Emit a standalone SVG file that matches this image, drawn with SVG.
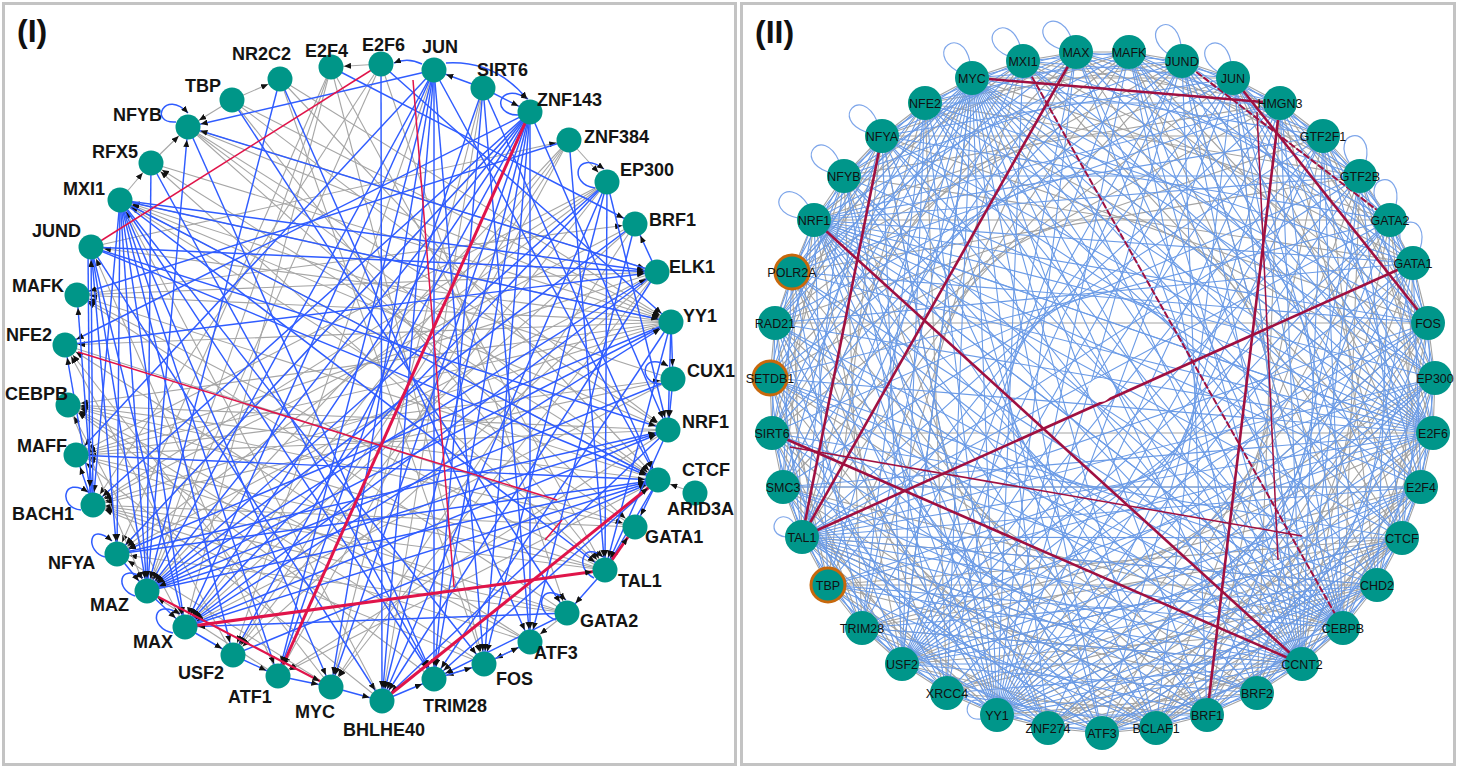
<svg xmlns="http://www.w3.org/2000/svg" width="1459" height="768" viewBox="0 0 1459 768">
<style>
.frame{fill:#fff;stroke:#c3c3c3;stroke-width:3}
.ttl{font-family:"Liberation Sans",Arial,sans-serif;font-weight:bold;font-size:32px;fill:#111}
.t1{font-family:"Liberation Sans",Arial,sans-serif;font-weight:bold;font-size:18px;fill:#141414}
.t2{font-family:"Liberation Sans",Arial,sans-serif;font-size:12.5px;fill:#111;text-anchor:middle}
.n1{fill:#009688}
.n2{fill:#00968a}
.n2o{fill:#00968a;stroke:#c8680c;stroke-width:3}
.b path{stroke:#2f5cff;stroke-width:1.45;fill:none;marker-end:url(#ar)}
.g path{stroke:#a6a6a6;stroke-width:1.1;fill:none;marker-end:url(#ar)}
.lp{stroke:#2f5cff;stroke-width:1.5;fill:none;marker-end:url(#al)}
.r{stroke:#e0144a;stroke-width:1.5;fill:none}
.R{stroke:#e0144a;stroke-width:3;fill:none;marker-end:url(#ar)}
.B2{stroke:#6b9be6;stroke-width:1.1;fill:none;stroke-linejoin:round}
.G2{stroke:#a3a3a3;stroke-width:1.1;fill:none;stroke-linejoin:round}
.R2{stroke:#a01040;stroke-width:2.6;fill:none}
.r2{stroke:#a01040;stroke-width:1.5;fill:none}
.L2{stroke:#7ea6ea;stroke-width:1.2;fill:none}
</style>
<defs>
<marker id="ar" markerUnits="userSpaceOnUse" markerWidth="7" markerHeight="6" refX="20" refY="3" orient="auto"><path d="M0,0L7,3L0,6z" fill="#111"/></marker>
<marker id="al" markerUnits="userSpaceOnUse" markerWidth="7" markerHeight="6" refX="7" refY="3" orient="auto"><path d="M0,0L7,3L0,6z" fill="#111"/></marker>
</defs>
<rect width="1459" height="768" fill="#fff"/>
<rect class="frame" x="3.5" y="3.5" width="732" height="761"/>
<rect class="frame" x="741.5" y="3.5" width="713" height="761"/>
<text class="ttl" x="17" y="42">(I)</text>
<text class="ttl" x="755" y="43">(II)</text>

<g id="connectors">
<g id="p1-grey" class="g">
<path d="M188 127L657 272"/><path d="M188 127L671 322"/><path d="M188 127L668 430"/><path d="M188 127L658 480"/><path d="M188 127L635 527"/>
<path d="M232 100L280 79"/><path d="M232 100L671 322"/><path d="M232 100L668 430"/><path d="M232 100L188 127"/><path d="M151 163L188 127"/>
<path d="M120 200L151 163"/><path d="M151 163L671 322"/><path d="M280 79L484 664"/><path d="M280 79L658 480"/><path d="M331 67L147 591"/>
<path d="M331 67L185 627"/><path d="M331 67L117 554"/><path d="M381 64L331 67"/><path d="M381 64L147 591"/><path d="M381 64L93 505"/>
<path d="M483 88L382 701"/><path d="M483 88L331 687"/><path d="M569 140L607 182"/><path d="M569 140L147 591"/><path d="M569 140L278 676"/>
<path d="M569 140L233 655"/><path d="M607 182L117 554"/><path d="M607 182L93 505"/><path d="M607 182L76 455"/><path d="M607 182L233 655"/>
<path d="M635 224L185 627"/><path d="M635 224L331 687"/><path d="M657 272L76 455"/><path d="M657 272L117 554"/><path d="M657 272L233 655"/>
<path d="M657 272L331 687"/><path d="M671 322L68 405"/><path d="M671 322L76 455"/><path d="M671 322L77 295"/><path d="M671 322L65 345"/>
<path d="M671 322L120 200"/><path d="M671 322L91 247"/><path d="M671 322L93 505"/><path d="M673 379L185 627"/><path d="M673 379L120 200"/>
<path d="M668 430L68 405"/><path d="M668 430L76 455"/><path d="M668 430L120 200"/><path d="M668 430L278 676"/><path d="M658 480L68 405"/>
<path d="M658 480L77 295"/><path d="M658 480L120 200"/><path d="M658 480L151 163"/><path d="M658 480L278 676"/><path d="M695 493L658 480"/>
<path d="M635 527L93 505"/><path d="M635 527L68 405"/><path d="M605 570L93 505"/><path d="M605 570L76 455"/><path d="M605 570L68 405"/>
<path d="M605 570L77 295"/><path d="M567 613L76 455"/><path d="M567 613L117 554"/><path d="M567 613L93 505"/><path d="M530 642L93 505"/>
<path d="M530 642L68 405"/><path d="M530 642L65 345"/><path d="M484 664L93 505"/><path d="M484 664L68 405"/><path d="M530 642L484 664"/>
<path d="M434 679L68 405"/><path d="M484 664L434 679"/><path d="M382 701L76 455"/><path d="M331 687L117 554"/><path d="M331 687L65 345"/>
<path d="M278 676L147 591"/><path d="M68 405L147 591"/><path d="M65 345L635 527"/><path d="M77 295L657 272"/><path d="M77 295L635 224"/>
<path d="M91 247L569 140"/><path d="M76 455L673 379"/><path d="M567 613L530 642"/><path d="M381 64L567 613"/><path d="M331 67L605 570"/>
<path d="M280 79L671 322"/><path d="M232 100L605 570"/><path d="M331 67L484 664"/><path d="M434 70L233 655"/><path d="M530 112L117 554"/>
<path d="M569 140L185 627"/><path d="M635 224L93 505"/><path d="M673 379L93 505"/><path d="M605 570L151 163"/><path d="M567 613L77 295"/>
<path d="M382 701L120 200"/><path d="M278 676L91 247"/><path d="M233 655L65 345"/><path d="M185 627L68 405"/><path d="M635 527L120 200"/>
</g>
<g id="p1-blue" class="b">
<path d="M530 112L147 591"/><path d="M530 112L117 554"/><path d="M530 112L93 505"/><path d="M530 112L185 627"/><path d="M530 112L382 701"/>
<path d="M530 112L434 679"/><path d="M530 112L484 664"/><path d="M530 112L530 642"/><path d="M530 112L65 345"/><path d="M530 112L668 430"/>
<path d="M530 112L233 655"/><path d="M530 112L331 687"/><path d="M434 70L188 127"/><path d="M434 70L147 591"/><path d="M434 70L185 627"/>
<path d="M434 70L278 676"/><path d="M434 70L331 687"/><path d="M434 70L382 701"/><path d="M434 70L434 679"/><path d="M434 70L484 664"/>
<path d="M434 70L76 455"/><path d="M434 70L658 480"/><path d="M483 88L434 70"/><path d="M483 88L530 112"/><path d="M483 88L434 679"/>
<path d="M483 88L658 480"/><path d="M483 88L530 642"/><path d="M483 88L278 676"/><path d="M381 64L671 322"/><path d="M381 64L382 701"/>
<path d="M331 67L635 224"/><path d="M280 79L147 591"/><path d="M280 79L530 642"/><path d="M232 100L567 613"/><path d="M188 127L434 679"/>
<path d="M657 272L188 127"/><path d="M147 591L188 127"/><path d="M120 200L147 591"/><path d="M120 200L117 554"/><path d="M120 200L93 505"/>
<path d="M120 200L185 627"/><path d="M120 200L233 655"/><path d="M120 200L278 676"/><path d="M120 200L331 687"/><path d="M120 200L434 679"/>
<path d="M120 200L484 664"/><path d="M120 200L605 570"/><path d="M120 200L657 272"/><path d="M120 200L671 322"/><path d="M120 200L658 480"/>
<path d="M91 247L147 591"/><path d="M91 247L117 554"/><path d="M91 247L185 627"/><path d="M91 247L668 430"/><path d="M91 247L658 480"/>
<path d="M91 247L382 701"/><path d="M91 247L657 272"/><path d="M151 163L147 591"/><path d="M151 163L434 679"/><path d="M569 140L77 295"/>
<path d="M93 505L77 295"/><path d="M93 505L91 247"/><path d="M93 505L65 345"/><path d="M93 505L76 455"/><path d="M88 250L90 500"/>
<path d="M147 591L658 480"/><path d="M185 627L658 480"/><path d="M117 554L658 480"/><path d="M233 655L658 480"/><path d="M76 455L658 480"/>
<path d="M185 627L668 430"/><path d="M147 591L668 430"/><path d="M117 554L668 430"/><path d="M147 591L657 272"/><path d="M65 345L657 272"/>
<path d="M185 627L671 322"/><path d="M147 591L671 322"/><path d="M657 272L382 701"/><path d="M668 430L382 701"/><path d="M607 182L382 701"/>
<path d="M658 480L434 679"/><path d="M671 322L434 679"/><path d="M635 224L530 642"/><path d="M607 182L484 664"/><path d="M671 322L605 570"/>
<path d="M668 430L605 570"/><path d="M569 140L605 570"/><path d="M607 182L605 570"/><path d="M605 570L567 613"/><path d="M567 613L185 627"/>
<path d="M185 627L233 655"/><path d="M233 655L278 676"/><path d="M278 676L331 687"/><path d="M331 687L382 701"/><path d="M382 701L434 679"/>
<path d="M434 679L484 664"/><path d="M484 664L530 642"/><path d="M147 591L185 627"/><path d="M117 554L147 591"/><path d="M607 182L147 591"/>
<path d="M607 182L185 627"/><path d="M607 182L668 430"/><path d="M657 272L635 224"/><path d="M671 322L673 379"/><path d="M671 322L668 430"/>
<path d="M673 379L668 430"/><path d="M658 480L635 527"/><path d="M658 480L605 570"/><path d="M635 224L147 591"/><path d="M657 272L185 627"/>
<path d="M671 322L117 554"/><path d="M567 613L434 679"/><path d="M673 379L147 591"/>
</g>
<g id="p1-loops">
<path class="lp" d="M176 122C148 124 165 88 188 113"/>
<path class="lp" d="M518 115C490 115 498 80 528 99"/>
<path class="lp" d="M595 188C568 185 575 148 604 169"/>
<path class="lp" d="M661 384C638 384 640 350 668 366"/>
<path class="lp" d="M81 510C58 508 62 475 88 492"/>
<path class="lp" d="M105 557C85 552 88 520 112 541"/>
<path class="lp" d="M135 596C115 590 118 562 143 578"/>
<path class="lp" d="M173 633C148 628 152 597 180 614"/>
<path class="lp" d="M556 620C532 612 540 578 566 600"/>
<path class="lp" d="M594 578C574 568 583 540 603 557"/>
<path class="lp" d="M446 63Q495 60 527 99"/>
<path class="lp" d="M422 64Q408 57 394 63"/>
</g>
<g id="p1-red">
<path class="r" d="M91 247L381 64"/>
<path class="r" d="M78 352L557 500"/>
<path class="r" d="M545 540L562 520"/>
<path class="r" d="M413 80L454 587"/>
<path class="R" d="M530 112L278 676"/>
<path class="R" d="M185 627L605 570"/>
<path class="R" d="M382 701L658 480"/>
<path class="R" style="stroke-width:2.2" d="M147 591L331 687"/>
<path class="R" d="M605 570L635 527"/>
</g>

<g id="p2-ring">
<path class="G2" d="M1076 52L1129 52L1182 61L1233 78L1280 103L1323 136L1360 176L1390 220L1413 263L1428 323L1435 378L1433 433L1421 487L1402 538L1377 585L1343 628L1302 664L1257 693L1207 715L1156 728L1102 733L1048 728L997 715L947 693L902 664L862 628L828 585L802 537L783 487L772 433L770 378L775 323L792 272L814 220L844 176L882 136L925 103L972 78L1023 61Z"/>
</g>
<g id="p2-grey" class="G2">
<path d="M1323 136L1076 52L1428 323M1402 538L1076 52"/>
<path d="M1360 176L1129 52L1435 378M1377 585L1129 52"/>
<path d="M1390 220L1182 61L1433 433M1343 628L1182 61"/>
<path d="M1413 263L1233 78L1421 487M1302 664L1233 78"/>
<path d="M1428 323L1280 103L1402 538M1257 693L1280 103"/>
<path d="M1435 378L1323 136L1377 585M1207 715L1323 136"/>
<path d="M1433 433L1360 176L1343 628M1156 728L1360 176"/>
<path d="M1421 487L1390 220L1302 664M1102 733L1390 220"/>
<path d="M1402 538L1413 263L1257 693M1048 728L1413 263"/>
<path d="M1377 585L1428 323L1207 715M997 715L1428 323"/>
<path d="M1343 628L1435 378L1156 728M947 693L1435 378"/>
<path d="M1302 664L1433 433L1102 733M902 664L1433 433"/>
<path d="M1257 693L1421 487L1048 728M862 628L1421 487"/>
<path d="M1207 715L1402 538L997 715M828 585L1402 538"/>
<path d="M1156 728L1377 585L947 693M802 537L1377 585"/>
<path d="M1102 733L1343 628L902 664M783 487L1343 628"/>
<path d="M1048 728L1302 664L862 628M772 433L1302 664"/>
<path d="M997 715L1257 693L828 585M770 378L1257 693"/>
<path d="M947 693L1207 715L802 537M775 323L1207 715"/>
<path d="M902 664L1156 728L783 487M792 272L1156 728"/>
<path d="M862 628L1102 733L772 433M814 220L1102 733"/>
<path d="M828 585L1048 728L770 378M844 176L1048 728"/>
<path d="M802 537L997 715L775 323M882 136L997 715"/>
<path d="M783 487L947 693L792 272M925 103L947 693"/>
<path d="M772 433L902 664L814 220M972 78L902 664"/>
<path d="M770 378L862 628L844 176M1023 61L862 628"/>
<path d="M775 323L828 585L882 136M1076 52L828 585"/>
<path d="M792 272L802 537L925 103M1129 52L802 537"/>
<path d="M814 220L783 487L972 78M1182 61L783 487"/>
<path d="M844 176L772 433L1023 61M1233 78L772 433"/>
<path d="M882 136L770 378L1076 52M1280 103L770 378"/>
<path d="M925 103L775 323L1129 52M1323 136L775 323"/>
<path d="M972 78L792 272L1182 61M1360 176L792 272"/>
<path d="M1023 61L814 220L1233 78M1390 220L814 220"/>
<path d="M1076 52L844 176L1280 103M1413 263L844 176"/>
<path d="M1129 52L882 136L1323 136M1428 323L882 136"/>
<path d="M1182 61L925 103L1360 176M1435 378L925 103"/>
<path d="M1233 78L972 78L1390 220M1433 433L972 78"/>
<path d="M1280 103L1023 61L1413 263M1421 487L1023 61"/>
<path d="M775 323L1428 323M772 433L1433 433M783 487L1421 487M828 585L1377 585"/>
<path d="M1302 664L1102 733L1377 585M1402 538L1102 733L1421 487"/>
<path d="M1343 628L1156 728L1402 538M1421 487L1156 728L1428 323"/>
<path d="M1377 585L1048 728L1402 538M1433 433L1048 728L1435 378"/>
<path d="M947 693L1402 538L902 664M862 628L1402 538"/>
<path d="M1257 693L802 537L1207 715"/>
</g>
<g id="p2-blue" class="B2">
<path d="M1182 61L1076 52L1280 103M1390 220L1076 52L1433 433M1302 664L1076 52"/>
<path d="M1233 78L1129 52L1323 136M1413 263L1129 52L1421 487M1257 693L1129 52"/>
<path d="M1280 103L1182 61L1360 176M1428 323L1182 61L1402 538M1207 715L1182 61"/>
<path d="M1323 136L1233 78L1390 220M1435 378L1233 78L1377 585M1156 728L1233 78"/>
<path d="M1360 176L1280 103L1413 263M1433 433L1280 103L1343 628M1102 733L1280 103"/>
<path d="M1390 220L1323 136L1428 323M1421 487L1323 136L1302 664M1048 728L1323 136"/>
<path d="M1413 263L1360 176L1435 378M1402 538L1360 176L1257 693M997 715L1360 176"/>
<path d="M1428 323L1390 220L1433 433M1377 585L1390 220L1207 715M947 693L1390 220"/>
<path d="M1435 378L1413 263L1421 487M1343 628L1413 263L1156 728M902 664L1413 263"/>
<path d="M1433 433L1428 323L1402 538M1302 664L1428 323L1102 733M862 628L1428 323"/>
<path d="M1421 487L1435 378L1377 585M1257 693L1435 378L1048 728M828 585L1435 378"/>
<path d="M1402 538L1433 433L1343 628M1207 715L1433 433L997 715M802 537L1433 433"/>
<path d="M1377 585L1421 487L1302 664M1156 728L1421 487L947 693M783 487L1421 487"/>
<path d="M1343 628L1402 538L1257 693M1102 733L1402 538L902 664M772 433L1402 538"/>
<path d="M1302 664L1377 585L1207 715M1048 728L1377 585L862 628M770 378L1377 585"/>
<path d="M1257 693L1343 628L1156 728M997 715L1343 628L828 585M775 323L1343 628"/>
<path d="M1207 715L1302 664L1102 733M947 693L1302 664L802 537M792 272L1302 664"/>
<path d="M1156 728L1257 693L1048 728M902 664L1257 693L783 487M814 220L1257 693"/>
<path d="M1102 733L1207 715L997 715M862 628L1207 715L772 433M844 176L1207 715"/>
<path d="M1048 728L1156 728L947 693M828 585L1156 728L770 378M882 136L1156 728"/>
<path d="M997 715L1102 733L902 664M802 537L1102 733L775 323M925 103L1102 733"/>
<path d="M947 693L1048 728L862 628M783 487L1048 728L792 272M972 78L1048 728"/>
<path d="M902 664L997 715L828 585M772 433L997 715L814 220M1023 61L997 715"/>
<path d="M862 628L947 693L802 537M770 378L947 693L844 176M1076 52L947 693"/>
<path d="M828 585L902 664L783 487M775 323L902 664L882 136M1129 52L902 664"/>
<path d="M802 537L862 628L772 433M792 272L862 628L925 103M1182 61L862 628"/>
<path d="M783 487L828 585L770 378M814 220L828 585L972 78M1233 78L828 585"/>
<path d="M772 433L802 537L775 323M844 176L802 537L1023 61M1280 103L802 537"/>
<path d="M770 378L783 487L792 272M882 136L783 487L1076 52M1323 136L783 487"/>
<path d="M775 323L772 433L814 220M925 103L772 433L1129 52M1360 176L772 433"/>
<path d="M792 272L770 378L844 176M972 78L770 378L1182 61M1390 220L770 378"/>
<path d="M814 220L775 323L882 136M1023 61L775 323L1233 78M1413 263L775 323"/>
<path d="M844 176L792 272L925 103M1076 52L792 272L1280 103M1428 323L792 272"/>
<path d="M882 136L814 220L972 78M1129 52L814 220L1323 136M1435 378L814 220"/>
<path d="M925 103L844 176L1023 61M1182 61L844 176L1360 176M1433 433L844 176"/>
<path d="M972 78L882 136L1076 52M1233 78L882 136L1390 220M1421 487L882 136"/>
<path d="M1023 61L925 103L1129 52M1280 103L925 103L1413 263M1402 538L925 103"/>
<path d="M1076 52L972 78L1182 61M1323 136L972 78L1428 323M1377 585L972 78"/>
<path d="M1129 52L1023 61L1233 78M1360 176L1023 61L1435 378M1343 628L1023 61"/>
<path d="M1076 52L997 715L1129 52M1182 61L997 715L1233 78M1280 103L997 715L1323 136M1390 220L997 715L1413 263M1428 323L997 715L1435 378M1421 487L997 715L1402 538M1377 585L997 715L1302 664M775 323L997 715L792 272M844 176L997 715L882 136M925 103L997 715L972 78"/>
<path d="M862 628L1433 433L828 585M783 487L1433 433L770 378M775 323L1433 433L792 272M814 220L1433 433L882 136M925 103L1433 433L972 78M1023 61L1433 433L1129 52M1182 61L1433 433L1233 78"/>
<path d="M902 664L1302 664L862 628M828 585L1302 664L783 487M770 378L1302 664L775 323M814 220L1302 664L844 176M882 136L1302 664L925 103M972 78L1302 664L1023 61M1129 52L1302 664L1182 61M1233 78L1302 664L1280 103M1360 176L1302 664"/>
<path d="M1360 176L802 537L1390 220M1413 263L802 537L1428 323M1435 378L802 537L1421 487M1402 538L802 537L1377 585M1343 628L802 537L1257 693M1207 715L802 537L1156 728M1102 733L802 537"/>
<path d="M772 433L1343 628L770 378M792 272L1343 628L814 220M844 176L1343 628L882 136M925 103L1343 628L972 78M1076 52L1343 628L1129 52M1182 61L1343 628L1233 78M1323 136L1343 628"/>
<path d="M1435 378L972 78L1421 487M1402 538L972 78L1257 693M1207 715L972 78L1156 728M1102 733L972 78L947 693M902 664L972 78L862 628M802 537L972 78L783 487M772 433L972 78L775 323M792 272L972 78"/>
<path d="M1280 103L814 220L1360 176M1413 263L814 220L1428 323M1433 433L814 220L1421 487M1402 538L814 220L1377 585M1343 628L814 220L1207 715M1156 728L814 220L1102 733M1048 728L814 220"/>
<path d="M1182 61L902 664L1233 78M1280 103L902 664L1323 136M1360 176L902 664L1390 220M1428 323L902 664L1435 378M1421 487L902 664L1402 538M1377 585L902 664L925 103M972 78L902 664"/>
</g>
<g id="p2-loops" class="L2">
<path d="M957 71C924 51 962 24 970 62"/>
<path d="M1008 56C972 40 1007 8 1020 45"/>
<path d="M1060 49C1023 36 1055 1 1071 37"/>
<path d="M1168 54C1136 31 1175 6 1181 45"/>
<path d="M1218 72C1185 51 1223 24 1231 62"/>
<path d="M1350 164C1328 131 1374 123 1366 161"/>
<path d="M1380 208C1358 175 1404 167 1396 205"/>
<path d="M1404 250C1386 215 1432 211 1420 249"/>
<path d="M866 132C830 119 861 85 877 121"/>
<path d="M828 172C792 159 823 125 839 161"/>
<path d="M798 218C760 210 787 172 808 205"/>
<path d="M786 537C762 534 779 504 794 523"/>
<path d="M982 719C958 722 966 689 986 704"/>
</g>
<g id="p2-red">
<path class="R2" d="M989 79L1263 102"/>
<path class="R2" d="M1233 78L1428 323"/>
<path class="R2" d="M1278 120L1207 715"/>
<path class="R2" d="M1076 52L802 537"/>
<path class="R2" d="M882 136L802 537"/>
<path class="R2" d="M814 220L1302 664"/>
<path class="R2" d="M772 433L1302 664"/>
<path class="R2" d="M1413 263L802 537"/>
<path class="R2" style="stroke-width:2;stroke-dasharray:7 2" d="M1023 61L1343 628"/>
<path class="R2" style="stroke-width:2;stroke-dasharray:7 2" d="M1182 61L1390 220"/>
<path class="r2" d="M1257 112L1278 560"/>
<path class="r2" d="M790 447L1302 536"/>
</g>
<circle cx="1100" cy="390" r="12" fill="#fff"/>
</g>

<g id="nodes-I">
<g id="n1-TBP"><circle class="n1" cx="232" cy="100" r="12.5"/><text class="t1" x="185" y="92">TBP</text></g>
<g id="n1-NR2C2"><circle class="n1" cx="280" cy="79" r="12.5"/><text class="t1" x="232" y="60">NR2C2</text></g>
<g id="n1-E2F4"><circle class="n1" cx="331" cy="67" r="12.5"/><text class="t1" x="305" y="57">E2F4</text></g>
<g id="n1-E2F6"><circle class="n1" cx="381" cy="64" r="12.5"/><text class="t1" x="362" y="51">E2F6</text></g>
<g id="n1-JUN"><circle class="n1" cx="434" cy="70" r="12.5"/><text class="t1" x="422" y="53">JUN</text></g>
<g id="n1-SIRT6"><circle class="n1" cx="483" cy="88" r="12.5"/><text class="t1" x="477" y="76">SIRT6</text></g>
<g id="n1-ZNF143"><circle class="n1" cx="530" cy="112" r="12.5"/><text class="t1" x="537" y="106">ZNF143</text></g>
<g id="n1-ZNF384"><circle class="n1" cx="569" cy="140" r="12.5"/><text class="t1" x="584" y="143">ZNF384</text></g>
<g id="n1-EP300"><circle class="n1" cx="607" cy="182" r="12.5"/><text class="t1" x="620" y="176">EP300</text></g>
<g id="n1-BRF1"><circle class="n1" cx="635" cy="224" r="12.5"/><text class="t1" x="649" y="226">BRF1</text></g>
<g id="n1-ELK1"><circle class="n1" cx="657" cy="272" r="12.5"/><text class="t1" x="669" y="273">ELK1</text></g>
<g id="n1-YY1"><circle class="n1" cx="671" cy="322" r="12.5"/><text class="t1" x="683" y="322">YY1</text></g>
<g id="n1-CUX1"><circle class="n1" cx="673" cy="379" r="12.5"/><text class="t1" x="687" y="377">CUX1</text></g>
<g id="n1-NRF1"><circle class="n1" cx="668" cy="430" r="12.5"/><text class="t1" x="682" y="428">NRF1</text></g>
<g id="n1-CTCF"><circle class="n1" cx="658" cy="480" r="12.5"/><text class="t1" x="682" y="476">CTCF</text></g>
<g id="n1-ARID3A"><circle class="n1" cx="695" cy="493" r="12.5"/><text class="t1" x="667" y="515">ARID3A</text></g>
<g id="n1-GATA1"><circle class="n1" cx="635" cy="527" r="12.5"/><text class="t1" x="645" y="543">GATA1</text></g>
<g id="n1-TAL1"><circle class="n1" cx="605" cy="570" r="12.5"/><text class="t1" x="618" y="587">TAL1</text></g>
<g id="n1-GATA2"><circle class="n1" cx="567" cy="613" r="12.5"/><text class="t1" x="580" y="627">GATA2</text></g>
<g id="n1-ATF3"><circle class="n1" cx="530" cy="642" r="12.5"/><text class="t1" x="534" y="659">ATF3</text></g>
<g id="n1-FOS"><circle class="n1" cx="484" cy="664" r="12.5"/><text class="t1" x="496" y="685">FOS</text></g>
<g id="n1-TRIM28"><circle class="n1" cx="434" cy="679" r="12.5"/><text class="t1" x="423" y="712">TRIM28</text></g>
<g id="n1-BHLHE40"><circle class="n1" cx="382" cy="701" r="12.5"/><text class="t1" x="343" y="736">BHLHE40</text></g>
<g id="n1-MYC"><circle class="n1" cx="331" cy="687" r="12.5"/><text class="t1" x="295" y="718">MYC</text></g>
<g id="n1-ATF1"><circle class="n1" cx="278" cy="676" r="12.5"/><text class="t1" x="228" y="703">ATF1</text></g>
<g id="n1-USF2"><circle class="n1" cx="233" cy="655" r="12.5"/><text class="t1" x="178" y="679">USF2</text></g>
<g id="n1-MAX"><circle class="n1" cx="185" cy="627" r="12.5"/><text class="t1" x="133" y="648">MAX</text></g>
<g id="n1-MAZ"><circle class="n1" cx="147" cy="591" r="12.5"/><text class="t1" x="90" y="611">MAZ</text></g>
<g id="n1-NFYA"><circle class="n1" cx="117" cy="554" r="12.5"/><text class="t1" x="48" y="569">NFYA</text></g>
<g id="n1-BACH1"><circle class="n1" cx="93" cy="505" r="12.5"/><text class="t1" x="12" y="520">BACH1</text></g>
<g id="n1-MAFF"><circle class="n1" cx="76" cy="455" r="12.5"/><text class="t1" x="17" y="452">MAFF</text></g>
<g id="n1-CEBPB"><circle class="n1" cx="68" cy="405" r="12.5"/><text class="t1" x="5" y="400">CEBPB</text></g>
<g id="n1-NFE2"><circle class="n1" cx="65" cy="345" r="12.5"/><text class="t1" x="6" y="341">NFE2</text></g>
<g id="n1-MAFK"><circle class="n1" cx="77" cy="295" r="12.5"/><text class="t1" x="12" y="292">MAFK</text></g>
<g id="n1-JUND"><circle class="n1" cx="91" cy="247" r="12.5"/><text class="t1" x="32" y="237">JUND</text></g>
<g id="n1-MXI1"><circle class="n1" cx="120" cy="200" r="12.5"/><text class="t1" x="63" y="195">MXI1</text></g>
<g id="n1-RFX5"><circle class="n1" cx="151" cy="163" r="12.5"/><text class="t1" x="92" y="158">RFX5</text></g>
<g id="n1-NFYB"><circle class="n1" cx="188" cy="127" r="12.5"/><text class="t1" x="113" y="121">NFYB</text></g>
</g>

<g id="nodes-II">
<g id="n2-MAX"><circle class="n2" cx="1076" cy="52" r="17"/><text class="t2" x="1076" y="56.5">MAX</text></g>
<g id="n2-MAFK"><circle class="n2" cx="1129" cy="52" r="17"/><text class="t2" x="1129" y="56.5">MAFK</text></g>
<g id="n2-JUND"><circle class="n2" cx="1182" cy="61" r="17"/><text class="t2" x="1182" y="65.5">JUND</text></g>
<g id="n2-JUN"><circle class="n2" cx="1233" cy="78" r="17"/><text class="t2" x="1233" y="82.5">JUN</text></g>
<g id="n2-HMGN3"><circle class="n2" cx="1280" cy="103" r="17"/><text class="t2" x="1280" y="107.5">HMGN3</text></g>
<g id="n2-GTF2F1"><circle class="n2" cx="1323" cy="136" r="17"/><text class="t2" x="1323" y="140.5">GTF2F1</text></g>
<g id="n2-GTF2B"><circle class="n2" cx="1360" cy="176" r="17"/><text class="t2" x="1360" y="180.5">GTF2B</text></g>
<g id="n2-GATA2"><circle class="n2" cx="1390" cy="220" r="17"/><text class="t2" x="1390" y="224.5">GATA2</text></g>
<g id="n2-GATA1"><circle class="n2" cx="1413" cy="263" r="17"/><text class="t2" x="1413" y="267.5">GATA1</text></g>
<g id="n2-FOS"><circle class="n2" cx="1428" cy="323" r="17"/><text class="t2" x="1428" y="327.5">FOS</text></g>
<g id="n2-EP300"><circle class="n2" cx="1435" cy="378" r="17"/><text class="t2" x="1435" y="382.5">EP300</text></g>
<g id="n2-E2F6"><circle class="n2" cx="1433" cy="433" r="17"/><text class="t2" x="1433" y="437.5">E2F6</text></g>
<g id="n2-E2F4"><circle class="n2" cx="1421" cy="487" r="17"/><text class="t2" x="1421" y="491.5">E2F4</text></g>
<g id="n2-CTCF"><circle class="n2" cx="1402" cy="538" r="17"/><text class="t2" x="1402" y="542.5">CTCF</text></g>
<g id="n2-CHD2"><circle class="n2" cx="1377" cy="585" r="17"/><text class="t2" x="1377" y="589.5">CHD2</text></g>
<g id="n2-CEBPB"><circle class="n2" cx="1343" cy="628" r="17"/><text class="t2" x="1343" y="632.5">CEBPB</text></g>
<g id="n2-CCNT2"><circle class="n2" cx="1302" cy="664" r="17"/><text class="t2" x="1302" y="668.5">CCNT2</text></g>
<g id="n2-BRF2"><circle class="n2" cx="1257" cy="693" r="17"/><text class="t2" x="1257" y="697.5">BRF2</text></g>
<g id="n2-BRF1"><circle class="n2" cx="1207" cy="715" r="17"/><text class="t2" x="1207" y="719.5">BRF1</text></g>
<g id="n2-BCLAF1"><circle class="n2" cx="1156" cy="728" r="17"/><text class="t2" x="1156" y="732.5">BCLAF1</text></g>
<g id="n2-ATF3"><circle class="n2" cx="1102" cy="733" r="17"/><text class="t2" x="1102" y="737.5">ATF3</text></g>
<g id="n2-ZNF274"><circle class="n2" cx="1048" cy="728" r="17"/><text class="t2" x="1048" y="732.5">ZNF274</text></g>
<g id="n2-YY1"><circle class="n2" cx="997" cy="715" r="17"/><text class="t2" x="997" y="719.5">YY1</text></g>
<g id="n2-XRCC4"><circle class="n2" cx="947" cy="693" r="17"/><text class="t2" x="947" y="697.5">XRCC4</text></g>
<g id="n2-USF2"><circle class="n2" cx="902" cy="664" r="17"/><text class="t2" x="902" y="668.5">USF2</text></g>
<g id="n2-TRIM28"><circle class="n2" cx="862" cy="628" r="17"/><text class="t2" x="862" y="632.5">TRIM28</text></g>
<g id="n2-TBP"><circle class="n2o" cx="828" cy="585" r="17"/><text class="t2" x="828" y="589.5">TBP</text></g>
<g id="n2-TAL1"><circle class="n2" cx="802" cy="537" r="17"/><text class="t2" x="802" y="541.5">TAL1</text></g>
<g id="n2-SMC3"><circle class="n2" cx="783" cy="487" r="17"/><text class="t2" x="783" y="491.5">SMC3</text></g>
<g id="n2-SIRT6"><circle class="n2" cx="772" cy="433" r="17"/><text class="t2" x="772" y="437.5">SIRT6</text></g>
<g id="n2-SETDB1"><circle class="n2o" cx="770" cy="378" r="17"/><text class="t2" x="770" y="382.5">SETDB1</text></g>
<g id="n2-RAD21"><circle class="n2" cx="775" cy="323" r="17"/><text class="t2" x="775" y="327.5">RAD21</text></g>
<g id="n2-POLR2A"><circle class="n2o" cx="792" cy="272" r="17"/><text class="t2" x="792" y="276.5">POLR2A</text></g>
<g id="n2-NRF1"><circle class="n2" cx="814" cy="220" r="17"/><text class="t2" x="814" y="224.5">NRF1</text></g>
<g id="n2-NFYB"><circle class="n2" cx="844" cy="176" r="17"/><text class="t2" x="844" y="180.5">NFYB</text></g>
<g id="n2-NFYA"><circle class="n2" cx="882" cy="136" r="17"/><text class="t2" x="882" y="140.5">NFYA</text></g>
<g id="n2-NFE2"><circle class="n2" cx="925" cy="103" r="17"/><text class="t2" x="925" y="107.5">NFE2</text></g>
<g id="n2-MYC"><circle class="n2" cx="972" cy="78" r="17"/><text class="t2" x="972" y="82.5">MYC</text></g>
<g id="n2-MXI1"><circle class="n2" cx="1023" cy="61" r="17"/><text class="t2" x="1023" y="65.5">MXI1</text></g>
</g>
</svg>
